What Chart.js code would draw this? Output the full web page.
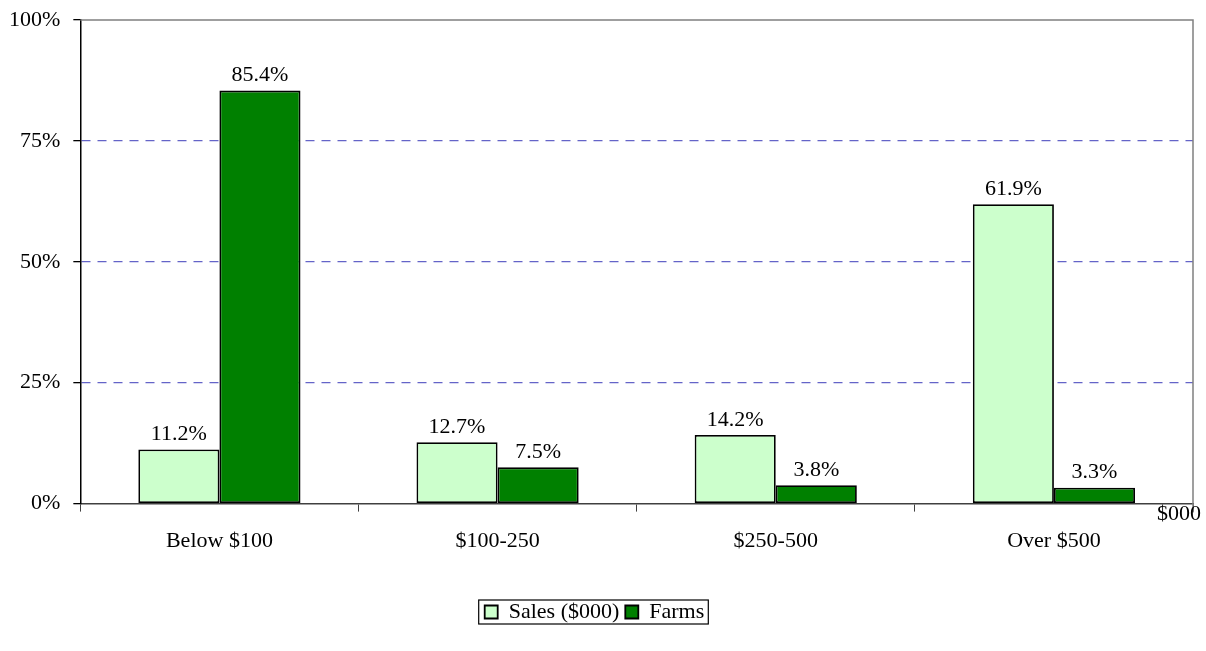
<!DOCTYPE html>
<html>
<head>
<meta charset="utf-8">
<script src="https://cdn.jsdelivr.net/npm/chart.js@4.4.1/dist/chart.umd.min.js"></script>
<style>
  html, body { margin: 0; padding: 0; background: #fff; }
  #wrap { width: 1206px; height: 651px; }
</style>
</head>
<body>
<div id="wrap"><canvas id="farms_chart" width="1206" height="651"></canvas></div>
<script>
  const categories = ['Below $100', '$100-250', '$250-500', 'Over $500'];
  const salesShare = [11.2, 12.7, 14.2, 61.9];
  const farmsShare = [85.4, 7.5, 3.8, 3.3];
  const yTicks = [0, 25, 50, 75, 100];

  const serif = 'Liberation Serif, Times New Roman, serif';

  // frame: grey top line + right line, "$000" unit label
  const framePlugin = {
    id: 'frame',
    afterDraw(chart) {
      const { ctx, chartArea: a } = chart;
      ctx.save();
      ctx.strokeStyle = '#808080';
      ctx.lineWidth = 1.5;
      ctx.beginPath();
      ctx.moveTo(a.left, a.top);
      ctx.lineTo(a.right, a.top);
      ctx.lineTo(a.right, a.bottom + 9);
      ctx.stroke();
      ctx.fillStyle = '#000';
      ctx.font = '22px ' + serif;
      ctx.textAlign = 'right';
      ctx.textBaseline = 'middle';
      ctx.fillText('$000', 1201, a.bottom + 11);
      ctx.restore();
    }
  };

  // value labels above each bar
  const valueLabels = {
    id: 'valueLabels',
    afterDatasetsDraw(chart) {
      const ctx = chart.ctx;
      ctx.save();
      ctx.fillStyle = '#000';
      ctx.font = '22px ' + serif;
      ctx.textAlign = 'center';
      ctx.textBaseline = 'middle';
      chart.data.datasets.forEach((ds, i) => {
        chart.getDatasetMeta(i).data.forEach((bar, j) => {
          ctx.fillText(ds.data[j].toFixed(1) + '%', bar.x, bar.y - 15);
        });
      });
      ctx.restore();
    }
  };

  // box around the legend
  const legendBox = {
    id: 'legendBox',
    afterDraw(chart) {
      const boxes = chart.legend.legendHitBoxes;
      if (!boxes || !boxes.length) return;
      const first = boxes[0], last = boxes[boxes.length - 1];
      const ctx = chart.ctx;
      ctx.save();
      ctx.strokeStyle = '#000';
      ctx.lineWidth = 1.2;
      ctx.strokeRect(first.left - 6, first.top - 1, last.left + last.width - first.left + 10, first.height + 2);
      ctx.restore();
    }
  };

  new Chart(document.getElementById('farms_chart'), {
    type: 'bar',
    data: {
      labels: categories,
      datasets: [{
        label: 'Sales ($000)',
        data: salesShare,
        backgroundColor: '#ccffcc',
        borderColor: '#000',
        borderWidth: 1.8,
        borderSkipped: false
      }, {
        label: 'Farms',
        data: farmsShare,
        backgroundColor: '#008000',
        borderColor: '#000',
        borderWidth: 1.8,
        borderSkipped: false
      }]
    },
    options: {
      responsive: false,
      animation: false,
      maintainAspectRatio: false,
      layout: { padding: { left: -4, right: 13, top: 20, bottom: 18 } },
      datasets: { bar: { barPercentage: 1, categoryPercentage: 0.583 } },
      plugins: {
        tooltip: { enabled: false },
        legend: {
          position: 'bottom',
          labels: {
            color: '#000',
            font: { family: serif, size: 22 },
            boxWidth: 13,
            boxHeight: 13,
            padding: 6
          }
        }
      },
      scales: {
        x: {
          offset: true,
          grid: {
            offset: true,
            drawOnChartArea: false,
            tickLength: 8,
            tickColor: '#404040'
          },
          border: { color: '#404040', width: 1.5 },
          ticks: { color: '#000', font: { family: serif, size: 22 }, padding: 16 },
          afterFit(scale) { scale.height += 25; }
        },
        y: {
          min: 0,
          max: 100,
          afterBuildTicks(scale) { scale.ticks = yTicks.map(v => ({ value: v })); },
          afterFit(scale) { scale.paddingTop = 0; scale.paddingBottom = 0; },
          grid: {
            color: c => (c.tick && (c.tick.value === 0 || c.tick.value === 100)) ? 'rgba(0,0,0,0)' : '#6464c8',
            lineWidth: 1.3,
            tickLength: 7,
            tickColor: '#000',
            tickBorderDash: []
          },
          border: { color: '#000', width: 1.5, dash: [9, 7] },
          ticks: {
            color: '#000',
            font: { family: serif, size: 22 },
            padding: 13,
            callback: v => v + '%'
          }
        }
      }
    },
    plugins: [framePlugin, valueLabels, legendBox]
  });
</script>
</body>
</html>
